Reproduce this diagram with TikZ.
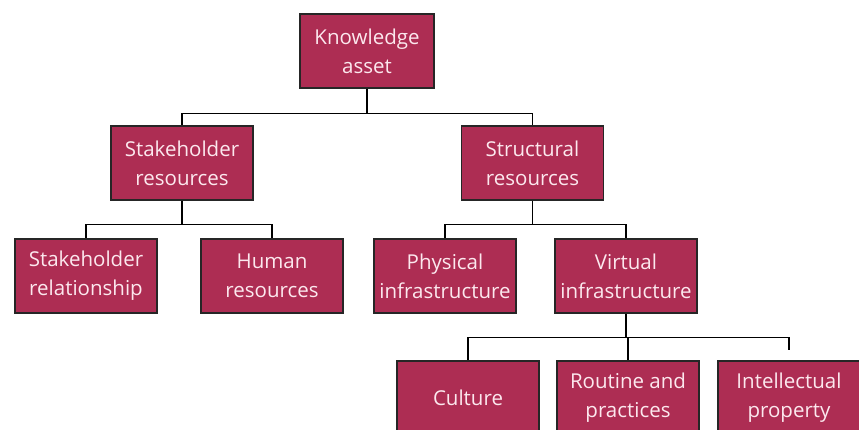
\documentclass[tikz,border=0pt]{standalone}
\usepackage{fontspec}
\setmainfont{Open Sans}
\definecolor{boxfill}{RGB}{173,45,83}
\definecolor{boxtext}{RGB}{252,232,238}
\begin{document}
\begin{tikzpicture}[x=1pt,y=-1pt,
  kbox/.style={draw=black!85, line width=1.3pt, fill=boxfill, text=boxtext,
    minimum width=142pt, minimum height=74pt, inner sep=0pt,
    align=center, font=\fontsize{20.5}{29}\selectfont},
  link/.style={draw=black, line width=1.2pt}]
\useasboundingbox (0,0) rectangle (859,430);
\node[kbox, minimum width=134pt] (ka) at (367,51) {Knowledge\\asset};
\node[kbox] (sr) at (182,163) {Stakeholder\\resources};
\node[kbox] (st) at (532.5,163) {Structural\\resources};
\node[kbox] (rel) at (86,276) {Stakeholder\\relationship};
\node[kbox] (hr) at (272,276) {Human\\resources};
\node[kbox] (pi) at (445,276) {Physical\\infrastructure};
\node[kbox] (vi) at (626,276) {Virtual\\infrastructure};
\node[kbox] (cu) at (468,398) {Culture};
\node[kbox] (rp) at (628,398) {Routine and\\practices};
\node[kbox] (ip) at (789,398) {Intellectual\\property};
\coordinate (ipend) at (789,350);
% level 1
\draw[link] (ka.south) -- ++(0,25) -| (sr.north);
\draw[link] (ka.south) ++(0,25) -| (st.north);
% level 2
\draw[link] (sr.south) -- ++(0,24) -| (rel.north);
\draw[link] (sr.south) ++(0,24) -| (hr.north);
\draw[link] (st.south) -- ++(0,24) -| (pi.north);
\draw[link] (st.south) ++(0,24) -| (vi.north);
% level 3
\draw[link] (vi.south) -- ++(0,24) -| (cu.north);
\draw[link] (vi.south) ++(0,24) -| (rp.north);
\draw[link] (vi.south) ++(0,24) -| (ipend);
\end{tikzpicture}
\end{document}
